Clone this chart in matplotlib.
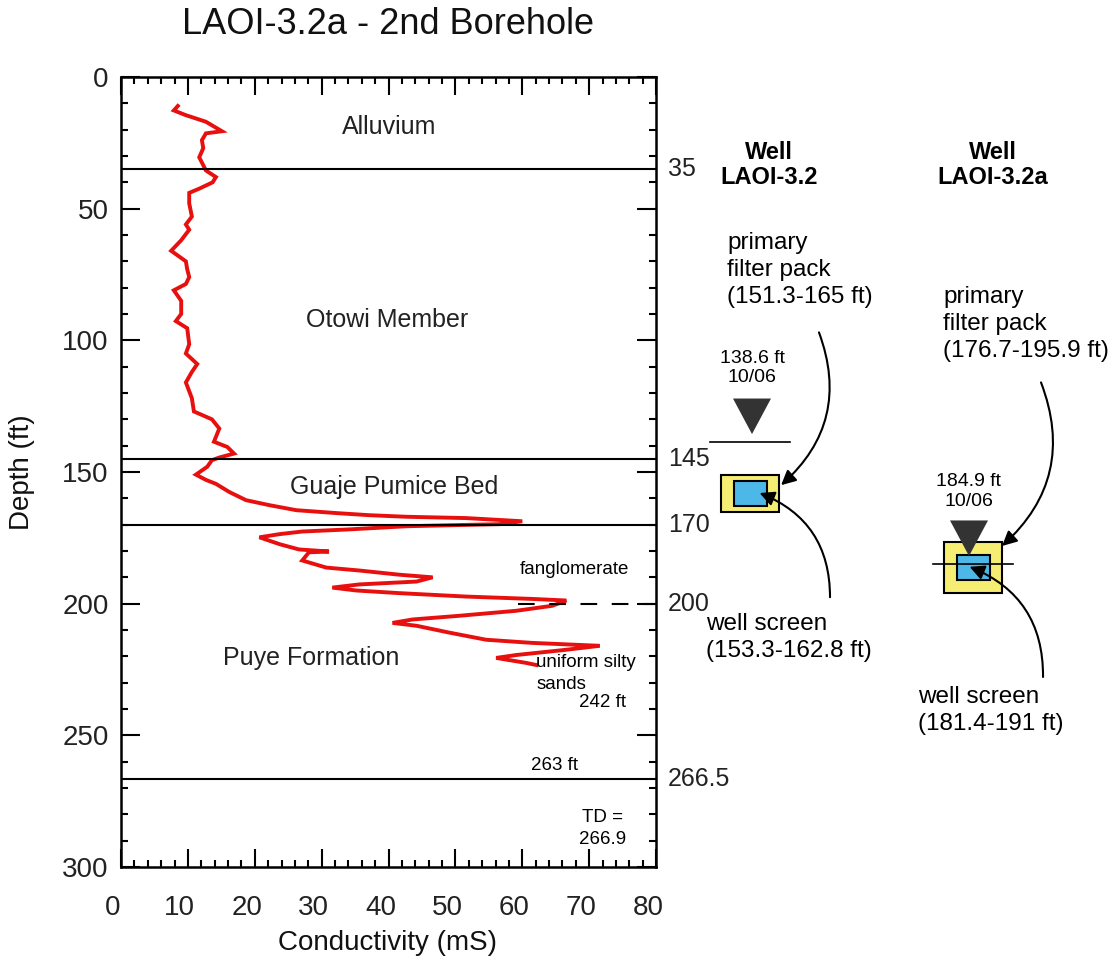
import matplotlib
matplotlib.use("Agg")
import matplotlib.pyplot as plt
import matplotlib.transforms as mtransforms
from matplotlib.patches import Rectangle, Polygon
from matplotlib.ticker import MultipleLocator

plt.rcParams['font.family'] = ['Liberation Sans', 'DejaVu Sans']

# conductivity log (depth in ft, conductivity in mS)
depth = [11, 12.7, 14.5, 17, 20.6, 21.4, 24, 27, 30.5, 33, 35.5, 38, 40, 42.4, 44,
         48, 53, 56, 58, 62, 66, 70, 73, 76, 78.6, 81, 85, 90, 92.7, 95.4,
         101.5, 105, 109, 112, 116, 122, 127, 130, 133.5, 138.5, 140.5, 143, 144.5,
         145.5, 148, 151, 153, 154.5, 157.6, 160.7, 162.6, 164.5, 165.6, 166.4,
         167, 167.5, 168.7, 169.8, 170.6, 171.8, 172.6, 173.6, 174.8, 177.4,
         179.4, 180.2, 180.5, 183.6, 186.3, 187.4, 189, 190, 191.6, 192.7, 193.9,
         195, 196, 197.3, 198.2, 198.8, 200.8, 202.7, 204.6, 206, 207.3, 208.4,
         211, 213.7, 214.9, 216, 217.5, 219.5, 220.6, 222.5, 223.3]
cond = [8.5, 7.9, 9.7, 12.7, 15.1, 12.7, 12.1, 12.3, 11.7, 12.2, 12.7, 14.2, 13.7, 11.7, 10.2,
        10.2, 10.6, 9.7, 10.2, 9.0, 7.5, 9.7, 9.9, 10.2, 9.7, 7.9, 9.0, 9.0, 8.2, 9.9,
        10.2, 9.7, 11.4, 10.6, 9.7, 10.6, 10.9, 13.6, 14.7, 13.9, 15.9, 16.9, 14.7,
        13.6, 12.9, 11.2, 12.7, 14.2, 16.2, 18.7, 22.2, 26.2, 32.2, 37.1,
        42.7, 51.6, 60.0, 56.6, 42.7, 34.1, 27.1, 23.7, 20.7, 23.7,
        26.6, 31.1, 28.1, 27.1, 30.7, 35.6, 41.6, 46.6, 44.2, 35.6, 31.6,
        35.2, 41.6, 51.6, 61.5, 66.6, 64.5, 59.1, 50.6, 43.6, 40.6, 44.2,
        49.1, 54.6, 61.5, 71.6, 66.6, 59.1, 56.1, 60.6, 62.1]

# unit boundaries (ft)
contacts = [35, 145, 170, 266.5]
contact_labels = ['35', '145', '170', '266.5']
dashed_contact = 200

units = ['Alluvium', 'Otowi Member', 'Guaje Pumice Bed', 'Puye Formation']
unit_x = [40.1, 39.8, 40.9, 28.4]
unit_depth = [19, 92.3, 155.7, 220.6]

# well completion data (ft)
wells = ['LAOI-3.2', 'LAOI-3.2a']
water_level = [138.6, 184.9]
filter_pack = [(151.3, 165), (176.7, 195.9)]
screen = [(153.3, 162.8), (181.4, 191)]

fig = plt.figure(figsize=(11.18, 9.68), dpi=100)
ax = fig.add_axes([121 / 1118, 1 - 867 / 968, 535 / 1118, 790 / 968])

ax.plot(cond, depth, color='#e8100f', lw=2.8, solid_joinstyle='miter')

for d in contacts:
    ax.axhline(d, color='black', lw=1.5)
ax.plot([59.3, 80], [dashed_contact, dashed_contact], color='black', lw=1.5,
        dashes=(8, 7))

for name, x, d in zip(units, unit_x, unit_depth):
    ax.text(x, d, name, ha='center', va='center', fontsize=18, color='#222222')

small = dict(fontsize=13.5, color='black', va='center')
ax.text(67.8, 187.2, 'fanglomerate', ha='center', **small)
ax.text(62.1, 222.5, 'uniform silty', ha='left', **small)
ax.text(62.1, 230.8, 'sands', ha='left', **small)
ax.text(72, 237.7, '242 ft', ha='center', **small)
ax.text(64.8, 261.6, '263 ft', ha='center', **small)
ax.text(72, 281.3, 'TD =', ha='center', **small)
ax.text(72, 289.7, '266.9', ha='center', **small)

for d, lab in zip(contacts + [dashed_contact], contact_labels + ['200']):
    ax.text(1.022, d, lab, transform=ax.get_yaxis_transform(), ha='left',
            va='center', fontsize=18, color='#222222')

ax.set_xlim(0, 80)
ax.set_ylim(300, 0)
ax.xaxis.set_major_locator(MultipleLocator(10))
ax.xaxis.set_minor_locator(MultipleLocator(2))
ax.yaxis.set_major_locator(MultipleLocator(50))
ax.yaxis.set_minor_locator(MultipleLocator(10))
ax.tick_params(which='both', direction='in', top=True, right=True, width=1.5,
               colors='black', labelcolor='#222222', labelsize=20)
ax.tick_params(axis='x', which='major', length=13, pad=20)
ax.tick_params(axis='y', which='major', length=14, pad=9)
ax.tick_params(which='minor', length=5)
shift = mtransforms.ScaledTranslation(-8 / 100, 0, fig.dpi_scale_trans)
for lbl in ax.get_xticklabels():
    lbl.set_transform(lbl.get_transform() + shift)
for sp in ax.spines.values():
    sp.set_linewidth(1.8)

fig.text(388 / 1118, 1 - 25 / 968, 'LAOI-3.2a - 2nd Borehole', ha='center',
         va='center', fontsize=26, color='#111111')
fig.text(388 / 1118, 1 - 943 / 968, 'Conductivity (mS)', ha='center',
         va='center', fontsize=20, color='#111111')
fig.text(22 / 1118, 1 - 472 / 968, 'Depth (ft)', ha='center', va='center',
         rotation=90, fontsize=20, color='#111111')

# well schematics, drawn on the same depth scale
wx = fig.add_axes([690 / 1118, 1 - 867 / 968, 428 / 1118, 790 / 968])
wx.set_xlim(690, 1118)
wx.set_ylim(300, 0)
wx.axis('off')

centers = [750, 973]
title_x = [769, 993]
fp_text_x = [727, 943]
fp_text_d = [73.3, 93.8]
ws_text_x = [706, 918]
ws_text_d = [212.8, 240.7]
wl_text_x = [752, 969]
wl_text_d = [110.5, 157.4]
fp_arrow = [((818, 96), (779, 155.7)), ((1040, 115), (1000, 178.8))]
ws_arrow = [((830, 198.6), (757, 157.6)), ((1043, 228.9), (967, 185.6))]

for i, name in enumerate(wells):
    c = centers[i]
    wx.text(title_x[i], 28.5, 'Well', ha='center', va='center',
            fontsize=17, fontweight='bold')
    wx.text(title_x[i], 38, name, ha='center', va='center',
            fontsize=17, fontweight='bold')
    top, bot = filter_pack[i]
    wx.add_patch(Rectangle((c - 29, top), 58, bot - top, facecolor='#f6ee72',
                           edgecolor='black', lw=1.5, zorder=2))
    top, bot = screen[i]
    wx.add_patch(Rectangle((c - 16.5, top), 33, bot - top, facecolor='#4db8e8',
                           edgecolor='black', lw=1.5, zorder=3))
    wl = water_level[i]
    wx.plot([c - 40, c + 40], [wl, wl], color='black', lw=1.2, zorder=4)
    tc = wl_text_x[i]
    wx.add_patch(Polygon([(tc - 19, wl - 16.5), (tc + 19, wl - 16.5), (tc, wl - 3)],
                         closed=True, facecolor='#333333', edgecolor='none',
                         zorder=5))
    wx.text(tc, wl_text_d[i], f'{wl} ft\n10/06', ha='center', va='center',
            fontsize=14, linespacing=1.2)
    wx.text(fp_text_x[i], fp_text_d[i],
            'primary\nfilter pack\n(%g-%g ft)' % filter_pack[i],
            ha='left', va='center', fontsize=17.5, linespacing=1.28)
    wx.text(ws_text_x[i], ws_text_d[i],
            'well screen\n(%g-%g ft)' % screen[i],
            ha='left', va='center', fontsize=17.5, linespacing=1.28)
    (x0, d0), (x1, d1) = fp_arrow[i]
    wx.annotate('', xy=(x1, d1), xytext=(x0, d0),
                arrowprops=dict(arrowstyle='-|>', color='black', lw=1.5,
                                mutation_scale=22,
                                connectionstyle='arc3,rad=-0.35'), zorder=6)
    (x0, d0), (x1, d1) = ws_arrow[i]
    wx.annotate('', xy=(x1, d1), xytext=(x0, d0),
                arrowprops=dict(arrowstyle='-|>', color='black', lw=1.5,
                                mutation_scale=22,
                                connectionstyle='arc3,rad=0.35'), zorder=6)

fig.savefig('out.png', dpi=100)
